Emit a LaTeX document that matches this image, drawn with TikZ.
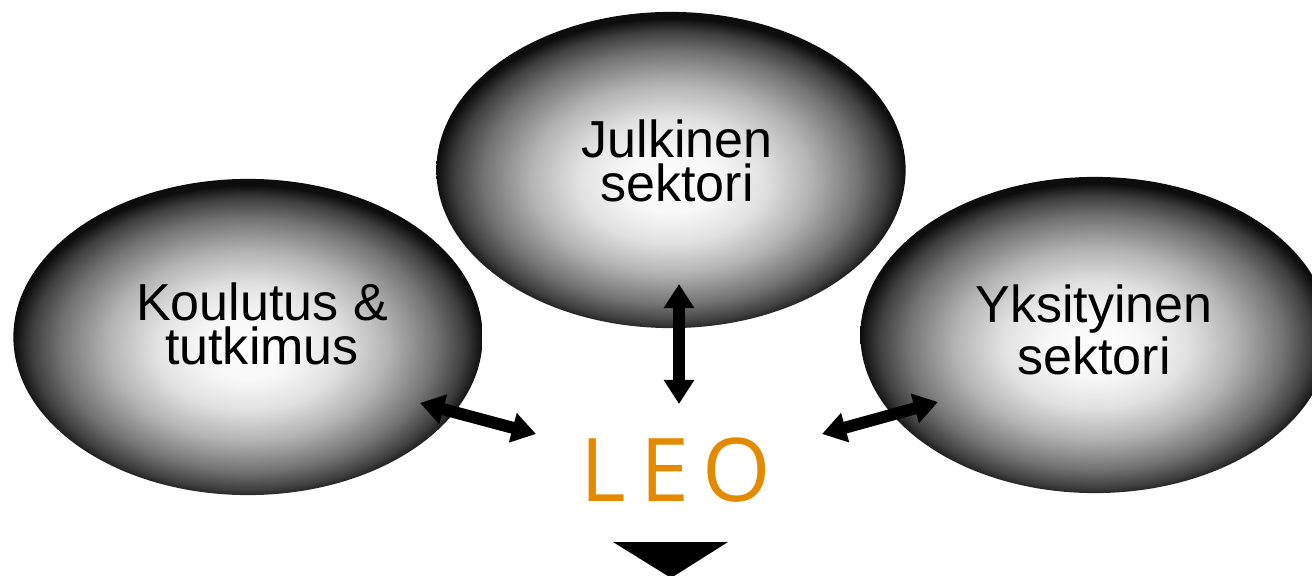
\documentclass[tikz,border=0pt]{standalone}
\usepackage{fontspec}
\setmainfont{Liberation Sans}
\newfontfamily\leofont{Open Sans}
\usetikzlibrary{shapes.geometric,arrows.meta}
\definecolor{leooranssi}{RGB}{228,138,0}
\pgfdeclareradialshading{pallovarjo}{\pgfpoint{0bp}{-2bp}}{color(0bp)=(white); color(5bp)=(black!3); color(10bp)=(black!12); color(15bp)=(black!30); color(20bp)=(black!55); color(23bp)=(black!75); color(25bp)=(black!95); color(50bp)=(black!95)}
\begin{document}
\begin{tikzpicture}[x=0.01cm,y=-0.01cm,
    pallo/.style={ellipse,minimum width=4.69cm,minimum height=3.16cm,inner sep=0pt,shading=pallovarjo},
    teksti/.style={align=center,font=\fontsize{14.8}{12.6}\selectfont},
    nuoli/.style={{Triangle[width=0.29cm,length=0.24cm]}-{Triangle[width=0.29cm,length=0.24cm]},line width=0.12cm}]
        \useasboundingbox (0,0) rectangle (1312,576);
        % pallot
        \node[pallo] (julkinen) at (671,170) {};
        \node[pallo] (koulutus) at (248,337) {};
        \node[pallo] (yksityinen) at (1095,335) {};
        \node[teksti] (julkinenT) at (677,161) {Julkinen\\sektori};
        \node[teksti] (koulutusT) at (262,324) {Koulutus \&\\tutkimus};
        \node[teksti] (yksityinenT) at (1094,330) {Yksityinen\\sektori};

        \node[font=\leofont\fontsize{25}{30}\selectfont,text=leooranssi] (leo) at (676,470) {L\hspace{0.14cm}E\hspace{0.14cm}O};

        % nuolten päät
        \coordinate (jA) at (679,284);
        \coordinate (jB) at (679,404);
        \coordinate (kA) at (420,403);
        \coordinate (kB) at (536,434);
        \coordinate (yA) at (822,434);
        \coordinate (yB) at (938,402);
        \draw[nuoli] (jA) -- (jB);
        \draw[nuoli] (kA) -- (kB);
        \draw[nuoli] (yA) -- (yB);

        \fill[black] (613,542) -- (728,542) -- (671,578) -- cycle;
    \end{tikzpicture}
\end{document}
